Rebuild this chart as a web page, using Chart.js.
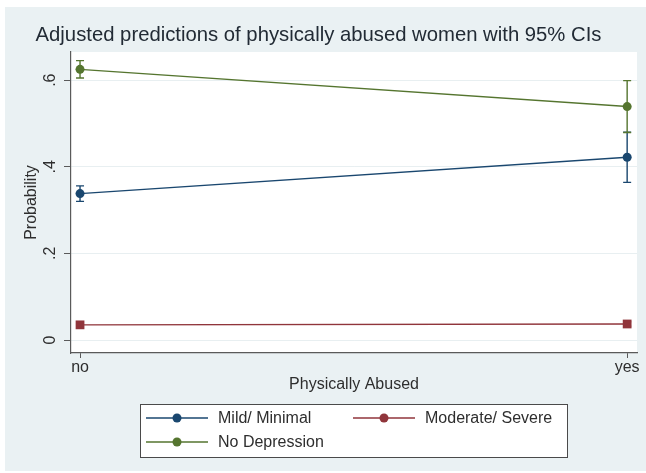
<!DOCTYPE html>
<html>
<head>
<meta charset="utf-8">
<script src="https://cdn.jsdelivr.net/npm/chart.js@4/dist/chart.umd.min.js"></script>
<style>
  html, body { margin: 0; padding: 0; background: #ffffff; }
  #wrap { position: relative; width: 646px; height: 473px; }
</style>
</head>
<body>
<div id="wrap"><canvas id="c" width="646" height="473"></canvas></div>
<script>
// ---- data ----
const categories = ['no', 'yes'];
const categoryPos = [0, 1];
const yTickValues = [0, 0.2, 0.4, 0.6];
const yTickLabels = ['0', '.2', '.4', '.6'];

const seriesNames = ['Mild/ Minimal', 'Moderate/ Severe', 'No Depression'];
const mildMinimal    = [0.338, 0.422];
const mildMinimalLo  = [0.320, 0.364];
const mildMinimalHi  = [0.356, 0.480];
const moderateSevere   = [0.035, 0.037];
const moderateSevereLo = [0.031, 0.032];
const moderateSevereHi = [0.039, 0.042];
const noDepression   = [0.625, 0.539];
const noDepressionLo = [0.605, 0.479];
const noDepressionHi = [0.645, 0.599];

const titleText = 'Adjusted predictions of physically abused women with 95% CIs';
const xTitle = 'Physically Abused';
const yTitle = 'Probability';

// ---- styling ----
const FONT = '"Liberation Sans", Arial, Helvetica, sans-serif';
const colors = ['#1a476f', '#90353b', '#55752f'];
const styles = ['circle', 'rect', 'circle'];
const radii = [4.5, 6.2, 4.5];
const TEXT = '#2e2e2e';
const BG = 'rgb(234,241,243)';
const GRID = 'rgb(232,239,241)';
const AXIS = '#5a5a5a';

function pts(vals) { return vals.map((v, i) => ({ x: categoryPos[i], y: v })); }

const seriesVals = [mildMinimal, moderateSevere, noDepression];
const seriesLo = [mildMinimalLo, moderateSevereLo, noDepressionLo];
const seriesHi = [mildMinimalHi, moderateSevereHi, noDepressionHi];

const datasets = seriesNames.map((name, k) => ({
  label: name,
  data: pts(seriesVals[k]),
  lo: seriesLo[k],
  hi: seriesHi[k],
  borderColor: colors[k],
  backgroundColor: colors[k],
  pointBackgroundColor: colors[k],
  pointBorderColor: colors[k],
  pointStyle: styles[k],
  pointRadius: radii[k],
  pointBorderWidth: 0,
  borderWidth: 1.4,
  tension: 0
}));

const bgPlugin = {
  id: 'bg',
  beforeDraw(chart) {
    const ctx = chart.ctx;
    ctx.save();
    ctx.fillStyle = '#ffffff';
    ctx.fillRect(0, 0, chart.width, chart.height);
    ctx.fillStyle = BG;
    ctx.fillRect(5, 7, chart.width - 5, chart.height - 9);
    const a = chart.chartArea;
    ctx.fillStyle = '#ffffff';
    ctx.fillRect(a.left, a.top, a.right - a.left, a.bottom - a.top);
    ctx.restore();
  }
};

const errorBarPlugin = {
  id: 'errbars',
  beforeDatasetsDraw(chart) {
    const ctx = chart.ctx;
    const xs = chart.scales.x, ys = chart.scales.y;
    ctx.save();
    chart.data.datasets.forEach((ds) => {
      ctx.strokeStyle = ds.borderColor;
      ctx.lineWidth = 1.4;
      ds.data.forEach((p, i) => {
        const x = xs.getPixelForValue(p.x);
        const y1 = ys.getPixelForValue(ds.lo[i]);
        const y2 = ys.getPixelForValue(ds.hi[i]);
        ctx.beginPath();
        ctx.moveTo(x, y1); ctx.lineTo(x, y2);
        ctx.moveTo(x - 4, y1); ctx.lineTo(x + 4, y1);
        ctx.moveTo(x - 4, y2); ctx.lineTo(x + 4, y2);
        ctx.stroke();
      });
    });
    ctx.restore();
  }
};

const legendPlugin = {
  id: 'stataLegend',
  afterDraw(chart) {
    const ctx = chart.ctx;
    ctx.save();
    const bx = 140.5, by = 404.5, bw = 427, bh = 53;
    ctx.fillStyle = '#ffffff';
    ctx.fillRect(bx, by, bw, bh);
    ctx.strokeStyle = '#4a4a4a';
    ctx.lineWidth = 1;
    ctx.strokeRect(bx, by, bw, bh);
    const slots = [[146, 418], [353, 418], [146, 442]];
    ctx.font = '16px ' + FONT;
    ctx.textBaseline = 'middle';
    ctx.textAlign = 'left';
    chart.data.datasets.forEach((ds, k) => {
      const [x0, y0] = slots[k];
      ctx.strokeStyle = ds.borderColor;
      ctx.lineWidth = 1.4;
      ctx.beginPath();
      ctx.moveTo(x0, y0); ctx.lineTo(x0 + 62, y0);
      ctx.stroke();
      ctx.fillStyle = ds.borderColor;
      ctx.beginPath();
      ctx.arc(x0 + 31, y0, 4.5, 0, Math.PI * 2);
      ctx.fill();
      ctx.fillStyle = TEXT;
      ctx.fillText(ds.label, x0 + 72, y0 + 1);
    });
    ctx.restore();
  }
};

new Chart(document.getElementById('c'), {
  type: 'line',
  data: { datasets },
  options: {
    responsive: false,
    animation: false,
    devicePixelRatio: 1,
    layout: { padding: { top: 0, left: 0, right: 9, bottom: 0 } },
    plugins: {
      legend: { display: false },
      tooltip: { enabled: false },
      title: {
        display: true,
        text: titleText,
        color: '#222b35',
        font: { family: FONT, size: 20.3, weight: 'normal' },
        padding: { top: 22.8, bottom: 4.84 }
      }
    },
    scales: {
      x: {
        type: 'linear',
        min: -0.0165,
        max: 1.018,
        afterBuildTicks(scale) { scale.ticks = categoryPos.map(v => ({ value: v })); },
        afterFit(scale) { scale.height = 120; },
        ticks: {
          color: TEXT,
          font: { family: FONT, size: 16 },
          padding: 0,
          maxRotation: 0,
          autoSkip: false,
          callback: (v) => categories[categoryPos.indexOf(v)]
        },
        grid: { display: true, drawOnChartArea: false, drawTicks: true, tickLength: 5, tickColor: AXIS, tickWidth: 1 },
        border: { display: true, color: AXIS, width: 1.2 },
        title: {
          display: true,
          text: xTitle,
          color: TEXT,
          font: { family: FONT, size: 16 },
          padding: { top: 0, bottom: 78.4 }
        }
      },
      y: {
        type: 'linear',
        min: -0.03,
        max: 0.665,
        afterBuildTicks(scale) { scale.ticks = yTickValues.map(v => ({ value: v })); },
        afterFit(scale) { scale.width = 71; },
        ticks: {
          color: TEXT,
          font: { family: FONT, size: 16 },
          minRotation: 90,
          maxRotation: 90,
          crossAlign: 'center',
          padding: 7,
          autoSkip: false,
          callback: (v) => yTickLabels[yTickValues.indexOf(v)]
        },
        grid: { display: true, drawOnChartArea: true, color: GRID, lineWidth: 1, drawTicks: true, tickLength: 7, tickColor: AXIS, tickWidth: 1 },
        border: { display: true, color: AXIS, width: 1.2 },
        title: {
          display: true,
          text: yTitle,
          color: TEXT,
          font: { family: FONT, size: 16 },
          padding: { top: 22, bottom: 0 }
        }
      }
    }
  },
  plugins: [bgPlugin, errorBarPlugin, legendPlugin]
});
</script>
</body>
</html>
